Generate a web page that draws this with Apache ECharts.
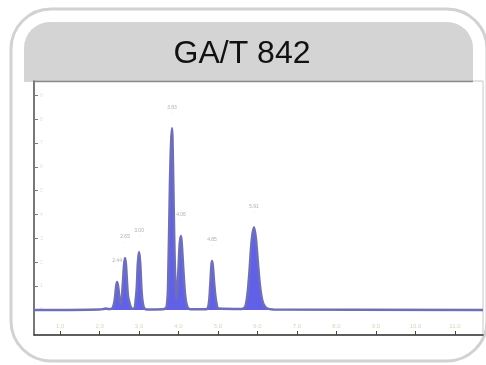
<!DOCTYPE html>
<html>
<head>
<meta charset="utf-8">
<script src="https://cdn.jsdelivr.net/npm/echarts@6/dist/echarts.min.js"></script>
<style>
  html, body { margin: 0; padding: 0; background: #ffffff; }
  #chart { width: 486px; height: 365px; }
</style>
</head>
<body>
<div id="chart"></div>
<script>
// Headspace GC trace: retention time (min) and detector signal (arbitrary units)
const traceTime = [
  0.34, 1.0, 2.0, 2.1, 2.16, 2.22, 2.3, 2.37, 2.42, 2.443, 2.47, 2.51, 2.54,
  2.58, 2.62, 2.646, 2.67, 2.72, 2.76, 2.8, 2.86, 2.93, 2.97, 3.0, 3.03, 3.07,
  3.12, 3.2, 3.6, 3.7, 3.74, 3.78, 3.81, 3.835, 3.86, 3.89, 3.92, 3.95, 3.99,
  4.03, 4.063, 4.09, 4.13, 4.17, 4.22, 4.3, 4.7, 4.76, 4.8, 4.83, 4.848, 4.87,
  4.91, 4.96, 5.02, 5.6, 5.7, 5.78, 5.85, 5.911, 5.96, 6.02, 6.08, 6.15, 6.25,
  6.4, 11.71
];
const traceSignal = [
  0.0, 0.0, 0.02, 0.04, 0.06, 0.04, 0.05, 0.3, 1.0, 1.17, 1.0, 0.45, 0.25,
  0.9, 1.9, 2.18, 1.9, 0.6, 0.3, 0.1, 0.05, 0.7, 2.0, 2.43, 2.0, 0.7,
  0.12, 0.02, 0.03, 0.15, 1.6, 5.2, 7.0, 7.62, 6.2, 3.2, 1.2, 0.45, 1.5,
  2.8, 3.1, 2.6, 1.5, 0.6, 0.15, 0.03, 0.03, 0.2, 1.0, 1.85, 2.05, 1.85,
  1.0, 0.3, 0.06, 0.04, 0.2, 1.3, 2.9, 3.47, 3.0, 1.8, 0.8, 0.25, 0.06,
  0.02, 0.0
];

// Labelled peaks: retention time and apex height
const peakTime = [2.443, 2.646, 3.0, 3.835, 4.063, 4.848, 5.911];
const peakHeight = [1.17, 2.18, 2.43, 7.62, 3.1, 2.05, 3.47];

// Axis tick positions
const timeTicks = [1, 2, 3, 4, 5, 6, 7, 8, 9, 10, 11];
const signalTicks = [0, 1, 2, 3, 4, 5, 6, 7, 8, 9];

const title = 'GA/T 842';

const chart = echarts.init(document.getElementById('chart'), null, { renderer: 'canvas' });

const traceData = traceTime.map((t, i) => [t, traceSignal[i]]);
const peakData = peakTime.map((t, i) => [t, peakHeight[i]]);

chart.setOption({
  animation: false,
  backgroundColor: '#ffffff',
  graphic: [
    {
      type: 'rect', z: -10, silent: true,
      shape: { x: 11, y: 9, width: 476, height: 352, r: 40 },
      style: { fill: '#ffffff', stroke: '#d2d2d2', lineWidth: 3 }
    },
    {
      type: 'rect', z: -9, silent: true,
      shape: { x: 24, y: 22, width: 449, height: 60, r: [26, 26, 0, 0] },
      style: { fill: '#d4d4d4' }
    },
    {
      type: 'text', z: 10, silent: true,
      x: 242, y: 54,
      style: {
        text: title, fill: '#111111',
        font: '32px "Liberation Sans", Arial, sans-serif',
        align: 'center', verticalAlign: 'middle'
      }
    },
    {
      type: 'line', z: 10, silent: true,
      shape: { x1: 34, y1: 81.5, x2: 473, y2: 81.5 },
      style: { stroke: '#8a8a8a', lineWidth: 1.5 }
    }
  ],
  grid: {
    left: 34, right: 3, top: 81, bottom: 30,
    show: true, backgroundColor: '#ffffff', borderColor: '#c8c8c8', borderWidth: 1
  },
  xAxis: {
    type: 'value', min: 0.34, max: 11.71,
    splitLine: { show: false },
    axisLine: { onZero: false, lineStyle: { color: '#333333', width: 1.5 } },
    axisTick: { inside: true, length: 4, customValues: timeTicks, lineStyle: { color: '#444444' } },
    axisLabel: {
      inside: true, customValues: timeTicks, margin: 6,
      fontSize: 6, color: '#d6d6b4',
      formatter: v => v.toFixed(1)
    }
  },
  yAxis: {
    type: 'value', min: -1.05, max: 9.6,
    splitLine: { show: false },
    axisLine: { onZero: false, lineStyle: { color: '#555555', width: 1.5 } },
    axisTick: { inside: true, length: 4, customValues: signalTicks, lineStyle: { color: '#777777' } },
    axisLabel: {
      inside: true, customValues: signalTicks, margin: 6,
      fontSize: 5, color: '#e2e2e2'
    }
  },
  series: [
    {
      type: 'line',
      data: traceData,
      smooth: 0.35,
      symbol: 'none',
      lineStyle: { color: '#6f6fb8', width: 2.4 },
      areaStyle: { color: '#5050e6', opacity: 0.9, origin: 0 },
      z: 3
    },
    {
      type: 'scatter',
      data: peakData,
      symbolSize: 0,
      silent: true,
      label: {
        show: true, position: 'top', distance: 12,
        fontSize: 5, lineHeight: 6, color: '#9a9a9a',
        formatter: p => p.value[0].toFixed(2) + '\n·'
      },
      z: 4
    }
  ]
});
</script>
</body>
</html>
